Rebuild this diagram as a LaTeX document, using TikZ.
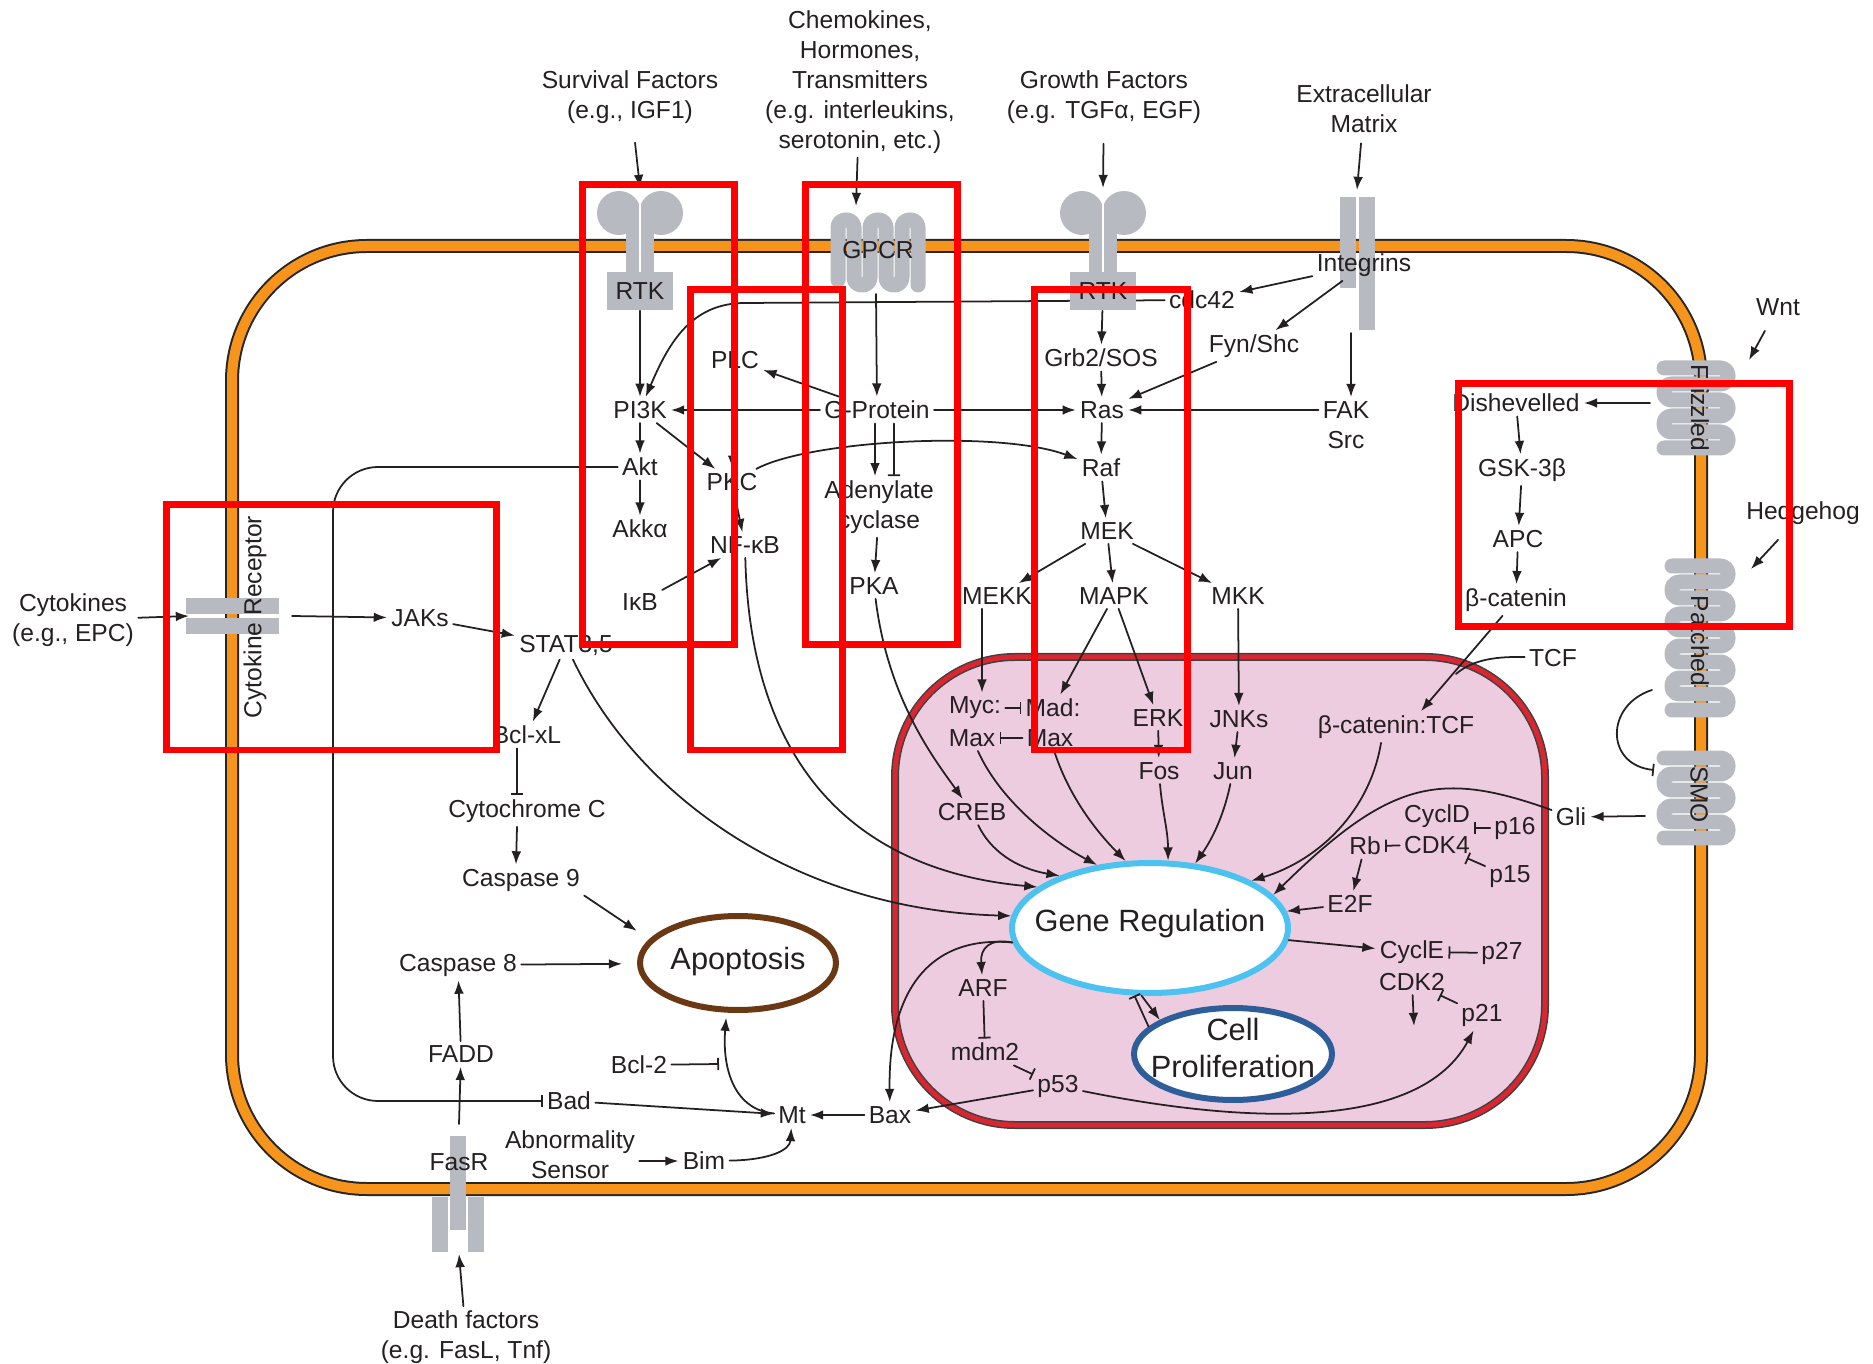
\documentclass[tikz,border=0pt]{standalone}
\usepackage{fontspec}
\setmainfont{Liberation Sans}
\usepackage{tikz}
\usetikzlibrary{arrows.meta}
\usetikzlibrary{shapes.geometric}
\definecolor{memorange}{rgb}{0.97,0.58,0.11}
\definecolor{nucpink}{rgb}{0.93,0.80,0.88}
\definecolor{nucred}{rgb}{0.85,0.15,0.19}
\definecolor{rcpgray}{rgb}{0.72,0.73,0.76}
\definecolor{grblue}{rgb}{0.30,0.76,0.94}
\definecolor{apobrown}{rgb}{0.42,0.22,0.08}
\definecolor{cpblue}{rgb}{0.18,0.37,0.60}
\definecolor{hlred}{rgb}{1,0,0}
\definecolor{txt}{rgb}{0.14,0.12,0.13}
\begin{document}
\begin{tikzpicture}[line cap=round,line join=round,x=0.02cm,y=-0.02cm,line width=1pt,color=txt,
  every node/.style={font=\fontsize{14}{17}\selectfont, text=txt, inner sep=2pt, align=center},
  act/.style={-{Latex[length=7.5pt, width=5.5pt]}},
  inh/.style={-{Bar[width=7pt]}},
  rcp/.style={rcpgray, line width=0.3cm, rounded corners=0.15cm},
  big/.style={font=\fontsize{17.5}{20.5}\selectfont},
  hl/.style={draw=hlred, line width=0.14cm, line join=miter}]
\useasboundingbox (0,0) rectangle (1873,1364);
\draw [line width=0.28cm, black!85, rounded corners=2.7cm] (232,246) rectangle (1701,1189);
\draw [line width=0.2cm, memorange, rounded corners=2.7cm] (232,246) rectangle (1701,1189);
\filldraw [fill=nucpink, draw=black!75, line width=0.16cm, rounded corners=2.4cm] (895,657) rectangle (1545,1125);
\draw [nucred, line width=0.1cm, rounded corners=2.4cm] (895,657) rectangle (1545,1125);

\draw (1202,300) node (cdc) {cdc42};
\draw (640,410) node (pik) {PI3K};
\draw [act] (cdc) -- (745,303) .. controls (690,303) and (668,345) .. (pik);

\fill [rcpgray] (619,213) circle (22);
\fill [rcpgray] (661,213) circle (22);
\fill [rcpgray] (626,222) rectangle (654,276);
\draw [white, line width=0.6pt] (640,190) -- (640,272);
\draw (640,291) node[fill=rcpgray, minimum width=1.32cm, minimum height=0.76cm] (rtka) {RTK};
\fill [rcpgray] (1082,213) circle (22);
\fill [rcpgray] (1124,213) circle (22);
\fill [rcpgray] (1089,222) rectangle (1117,276);
\draw [white, line width=0.6pt] (1103,190) -- (1103,272);
\draw (1103,291) node[fill=rcpgray, minimum width=1.32cm, minimum height=0.76cm] (rtkb) {RTK};
\draw [rcp] (838,280) -- (838,220) -- (854,220) -- (854,285) -- (870,285) -- (870,220) -- (886,220) -- (886,285) -- (902,285) -- (902,220) -- (918,220) -- (918,285);
\draw (878,250) node (gpcr) {GPCR};
\fill [rcpgray] (1340,197) rectangle (1356,288);
\fill [rcpgray] (1359,197) rectangle (1375,330);
\draw [rcp] (1664,368) -- (1728,368) -- (1728,384) -- (1664,384) -- (1664,400) -- (1728,400) -- (1728,416) -- (1664,416) -- (1664,432) -- (1728,432) -- (1728,448) -- (1664,448);
\draw (1700,408) node[rotate=-90] (fz) {Frizzled};
\draw [rcp] (1672,566) -- (1728,566) -- (1728,582) -- (1672,582) -- (1672,598) -- (1728,598) -- (1728,614) -- (1672,614) -- (1672,630) -- (1728,630) -- (1728,646) -- (1672,646) -- (1672,662) -- (1728,662) -- (1728,678) -- (1672,678) -- (1672,694) -- (1728,694) -- (1728,710) -- (1672,710);
\draw (1700,641) node[rotate=-90] (ptc) {Patched};
\draw [rcp] (1664,758) -- (1728,758) -- (1728,774) -- (1664,774) -- (1664,790) -- (1728,790) -- (1728,806) -- (1664,806) -- (1664,822) -- (1728,822) -- (1728,838) -- (1664,838);
\draw (1699,795) node[rotate=-90] (smo) {SMO};
\fill [rcpgray] (186,598) rectangle (279,614);
\fill [rcpgray] (186,618) rectangle (279,634);
\draw (255,617) node[rotate=90] (crec) {Cytokine Receptor};
\fill [rcpgray] (450,1136) rectangle (466,1230);
\fill [rcpgray] (432,1197) rectangle (448,1252);
\fill [rcpgray] (468,1197) rectangle (484,1252);
\draw (459,1162) node (fasr) {FasR};

\coordinate (rtkatop) at (640,188);
\coordinate (gpcrtop) at (856,206);
\coordinate (rtkbtop) at (1103,188);
\coordinate (itgtop) at (1357,190);
\coordinate (itgbot) at (1351,333);
\coordinate (gpcrbot) at (876,294);
\coordinate (fztip) at (1749,360);
\coordinate (ptctip) at (1751,569);
\coordinate (fzl) at (1650,403);
\coordinate (ptcl) at (1652,690);
\coordinate (smol) at (1654,770);
\coordinate (smog) at (1645,816);
\coordinate (crecl) at (189,616);
\coordinate (crecr) at (292,616);
\coordinate (fastop) at (459,1124);
\coordinate (fasbot) at (459,1254);
\coordinate (bcltip) at (719,1064);
\coordinate (tcfj) at (1456,674);
\coordinate (cdkend) at (1414,1026);

\draw (630,97) node (sf) {Survival Factors\\(e.g., IGF1)};
\draw (860,82) node (chm) {Chemokines,\\Hormones,\\Transmitters\\(e.g. interleukins,\\serotonin, etc.)};
\draw (1104,97) node (gf) {Growth Factors\\(e.g. TGFα, EGF)};
\draw (1364,109) node (ecm) {Extracellular\\Matrix};
\draw (1778,307) node (wnt) {Wnt};
\draw (1803,513) node (hh) {Hedgehog};
\draw (73,620) node (cyt) {Cytokines\\(e.g., EPC)};
\draw (466,1337) node (dth) {Death factors\\(e.g. FasL, Tnf)};
\draw (735,360) node (plc) {PLC};
\draw (732,482) node (pkc) {PKC};
\draw (745,545) node (nfkb) {NF-κB};
\draw (640,467) node (akt) {Akt};
\draw (640,529) node (akk) {Akkα};
\draw (640,602) node (ikb) {IκB};
\draw (877,410) node (gpr) {G-Protein};
\draw (879,507) node (ady) {Adenylate\\cyclase};
\draw (874,586) node (pka) {PKA};
\draw (1101,358) node (grb) {Grb2/SOS};
\draw (1102,410) node (ras) {Ras};
\draw (1101,468) node (raf) {Raf};
\draw (1107,531) node (mek) {MEK};
\draw (997,596) node (mekk) {MEKK};
\draw (1114,596) node (mapk) {MAPK};
\draw (1238,596) node (mkk) {MKK};
\draw (1364,265) node (itg) {Integrins};
\draw (1254,346) node (fyn) {Fyn/Shc};
\draw (1346,425) node (fak) {FAK\\Src};
\draw (1516,403) node (dsh) {Dishevelled};
\draw (1522,470) node (gsk) {GSK-3β};
\draw (1518,539) node (apc) {APC};
\draw (1516,600) node (bcat) {β-catenin};
\draw (1553,658) node (tcf) {TCF};
\draw (420,618) node (jak) {JAKs};
\draw (566,645) node (stat) {STAT3,5};
\draw (527,735) node (bclx) {Bcl-xL};
\draw (527,811) node (cytc) {Cytochrome C};
\draw (521,880) node (cas9) {Caspase 9};
\draw (458,965) node (cas8) {Caspase 8};
\draw (461,1054) node (fadd) {FADD};
\draw (569,1101) node (bad) {Bad};
\draw (639,1065) node (bcl) {Bcl-2};
\draw (792,1115) node (mt) {Mt};
\draw (890,1115) node (bax) {Bax};
\draw (704,1161) node (bim) {Bim};
\draw (570,1155) node (abn) {Abnormality\\Sensor};
\draw (975,708) node (myc) {Myc:};
\draw (1053,708) node (mad) {Mad:};
\draw (972,738) node (maxa) {Max};
\draw (1050,738) node (maxb) {Max};
\draw (1158,718) node (erk) {ERK};
\draw (1159,771) node (fos) {Fos};
\draw (1239,719) node (jnk) {JNKs};
\draw (1233,771) node (jun) {Jun};
\draw (1396,727) node (bct) {β-catenin:TCF};
\draw (972,812) node (creb) {CREB};
\draw (1437,816) node (cycd) {CyclD};
\draw (1437,845) node (cdk4) {CDK4};
\draw (1515,828) node (p16) {p16};
\draw (1510,877) node (p15) {p15};
\draw (1365,846) node (rb) {Rb};
\draw (1350,904) node (e2f) {E2F};
\draw (1571,817) node (gli) {Gli};
\draw (1412,952) node (cyce) {CyclE};
\draw (1502,953) node (p27) {p27};
\draw (1412,982) node (cdk2) {CDK2};
\draw (1482,1015) node (p21) {p21};
\draw (983,988) node (arf) {ARF};
\draw (985,1052) node (mdm) {mdm2};
\draw (1058,1086) node (p53) {p53};
\draw (1150,928) node[ellipse, draw=grblue, fill=white, line width=0.12cm, minimum width=5.52cm, minimum height=2.6cm] (gr) {};
\draw (1150,924) node[big] (grt) {Gene Regulation};
\draw (738,963) node[ellipse, draw=apobrown, fill=white, line width=0.12cm, minimum width=3.92cm, minimum height=1.88cm] (apo) {};
\draw (738,962) node[big] (apot) {Apoptosis};
\draw (1233,1054) node[ellipse, draw=cpblue, fill=white, line width=0.12cm, minimum width=3.96cm, minimum height=1.84cm] (cp) {};
\draw (1233,1048) node[big] (cpt) {Cell\\Proliferation};

\draw [act, shorten <=0.3cm] (sf) -- (rtkatop);
\draw [act] (chm) -- (gpcrtop);
\draw [act, shorten <=0.32cm] (gf) -- (rtkbtop);
\draw [act, shorten <=0.12cm] (ecm) -- (itgtop);
\draw [act, shorten <=0.25cm] (wnt) -- (fztip);
\draw [act, shorten <=0.3cm] (hh) -- (ptctip);
\draw [act] (cyt) -- (crecl);
\draw [act] (dth) -- (fasbot);
\draw [act] (rtka) -- (pik);
\draw [act] (pik) -- (akt);
\draw [act] (akt) -- (akk);
\draw [act] (pik) -- (pkc);
\draw [act] (gpr) -- (pik);
\draw [act] (gpr) -- (ras);
\draw [act] (gpr) -- (plc);
\draw [act] (plc) -- (pkc);
\draw [act] (pkc) -- (nfkb);
\draw [act] (ikb) -- (nfkb);
\draw [act] (gpcrbot) -- (gpr);
\draw [act] ([xshift=-0.04cm]gpr.south) -- ([xshift=-0.08cm]ady.north);
\draw [inh] ([xshift=0.34cm]gpr.south) -- ([xshift=0.3cm]ady.north);
\draw [act] (ady) -- (pka);
\draw [act] (pkc) .. controls (810,440) and (1000,430) .. (raf);
\draw [act] (itg) -- (cdc);
\draw [act] (itg) -- (fyn);
\draw [act] (fyn) -- (ras);
\draw [act] (itgbot) -- (itgbot |- fak.north);
\draw [act] (fak.west |- ras) -- (ras);
\draw [act] (rtkb) -- (grb);
\draw [act] (grb) -- (ras);
\draw [act] (ras) -- (raf);
\draw [act] (raf) -- (mek);
\draw [act] (mek) -- (mekk);
\draw [act] (mek) -- (mapk);
\draw [act] (mek) -- (mkk);
\draw [act] ([xshift=-0.3cm]mekk.south) -- ([xshift=0.14cm]myc.north);
\draw [act] (mapk) -- (mad);
\draw [act] (mapk) -- (erk);
\draw [act] (mkk) -- (jnk);
\draw [act] (erk) -- (fos);
\draw [act] (jnk) -- (jun);
\draw [inh] (myc) -- (mad);
\draw [inh] (maxb) -- (maxa);
\draw [act] (maxa) .. controls (1000,800) and (1050,840) .. (gr.130);
\draw [act] (maxb) .. controls (1070,800) and (1100,835) .. (gr.110);
\draw [act] (fos) .. controls (1162,810) and (1168,830) .. (gr.75);
\draw [act] (jun) .. controls (1225,810) and (1215,835) .. (gr.55);
\draw [act] (creb) .. controls (990,850) and (1015,868) .. (gr.150);
\draw [act] (pka) .. controls (888,700) and (935,760) .. (creb);
\draw [act] (nfkb) .. controls (750,760) and (850,870) .. (gr.160);
\draw [act] (stat) .. controls (640,800) and (800,910) .. (gr.175);
\draw [act] ([xshift=-0.3cm]bct.south) .. controls (1370,810) and (1320,860) .. (gr.25);
\draw [act] (gli) .. controls (1440,770) and (1390,780) .. (gr.15);
\draw [act] (e2f) -- (gr.7);
\draw [act] (gr.-5) -- (cyce);
\draw [act] (gr.-97) -- (cp.155);
\draw [inh] (cp.162) -- (gr.-103);
\draw [act] (gr.186) .. controls (990,938) and (980,948) .. (arf);
\draw [act] (gr.186) .. controls (930,935) and (888,990) .. (bax);
\draw [inh] (arf) -- (mdm);
\draw [inh] (mdm) -- (p53);
\draw [act] (p53) -- (bax);
\draw [act] (p53) .. controls (1250,1125) and (1420,1130) .. (p21);
\draw [inh] (p27) -- (cyce);
\draw [inh] (p21) -- (cdk2);
\draw [act] (cdk2) -- (cdkend);
\draw [inh] (p16.west) -- (p16.west -| cycd.east);
\draw [inh] (p15) -- (cdk4);
\draw [inh] (cdk4) -- (rb);
\draw [act] (rb) -- (e2f);
\draw [inh] (ptcl) .. controls (1605,705) and (1605,765) .. (smol);
\draw [act] (smog) -- (gli);
\draw [act] (fzl) -- (dsh);
\draw [act] (dsh) -- (gsk);
\draw [act] (gsk) -- (apc);
\draw [act] (apc) -- (bcat);
\draw [act] (bcat) -- ([xshift=0.5cm]bct.north);
\draw (tcf) .. controls (1490,656) and (1470,662) .. (tcfj);
\draw [act] (crecr) -- (jak);
\draw [act] (jak) -- (stat);
\draw [act] (stat) -- (bclx);
\draw [inh] ([xshift=-0.2cm]bclx.south) -- ([xshift=-0.2cm]cytc.north);
\draw [act] ([xshift=-0.2cm]cytc.south) -- ([xshift=-0.1cm]cas9.north);
\draw [act, shorten >=0.3cm] (cas9.south east) -- (apo.165);
\draw [act, shorten >=0.3cm] (cas8) -- (apo);
\draw [act] (fadd) -- (cas8);
\draw [act] (fastop) -- (fadd);
\draw [inh, rounded corners=0.9cm] (akt) -- (333,467) -- (333,1101) -- (bad);
\draw [act] (bad) -- (mt);
\draw [act] (bax) -- (mt);
\draw [act, shorten >=0.1cm] (mt) .. controls (735,1110) and (722,1070) .. (apo.-103);
\draw [inh] (bcl) -- (bcltip);
\draw [act] (abn.east |- bim) -- (bim);
\draw [act] (bim) .. controls (770,1160) and (790,1150) .. (mt);

\draw [hl] (582,185) rectangle (734,645);
\draw [hl] (805,185) rectangle (957,645);
\draw [hl] (690,290) rectangle (842,750);
\draw [hl] (1034,290) rectangle (1187,750);
\draw [hl] (166,505) rectangle (496,750);
\draw [hl] (1458,384) rectangle (1789,627);
\end{tikzpicture}
\end{document}
